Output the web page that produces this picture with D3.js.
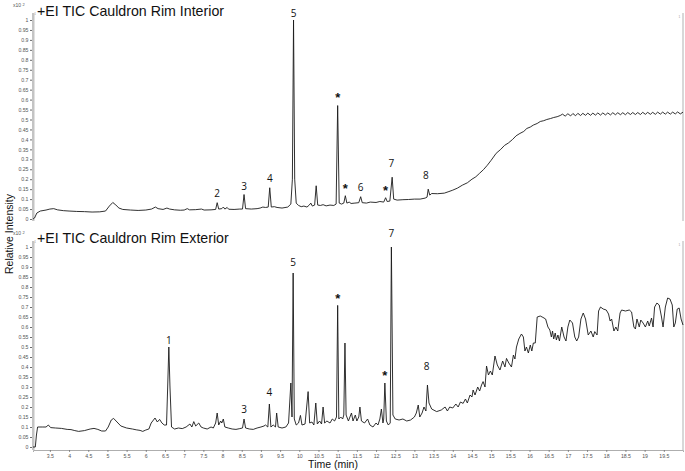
<!DOCTYPE html>
<html><head><meta charset="utf-8">
<script src="https://cdn.jsdelivr.net/npm/d3@7"></script>
<style>body{margin:0;background:#fff}svg{display:block}</style>
</head><body>
<svg id="c" width="685" height="471"></svg>
<script>
// ---------- DATA ----------
const titles = ["+EI TIC Cauldron Rim Interior", "+EI TIC Cauldron Rim Exterior"];
const yTicks = [0,0.05,0.1,0.15,0.2,0.25,0.3,0.35,0.4,0.45,0.5,0.55,0.6,0.65,0.7,0.75,0.8,0.85,0.9,0.95,1];
const xTicks = [3.5,4,4.5,5,5.5,6,6.5,7,7.5,8,8.5,9,9.5,10,10.5,11,11.5,12,12.5,13,13.5,14,14.5,15,15.5,16,16.5,17,17.5,18,18.5,19,19.5];

// [time (min), relative intensity x10^2]
const interiorTrace = [
[3.06,0.0],[3.1,0.005],[3.16,0.03],[3.25,0.04],[3.4,0.045],[3.5,0.05],[3.6,0.052],[3.7,0.046],[3.85,0.042],[4.0,0.04],
[4.2,0.038],[4.4,0.037],[4.6,0.035],[4.8,0.036],[4.95,0.04],[5.05,0.065],[5.14,0.083],[5.22,0.07],[5.3,0.055],[5.4,0.048],
[5.6,0.045],[5.8,0.043],[6.0,0.045],[6.15,0.05],[6.25,0.06],[6.32,0.052],[6.45,0.048],[6.55,0.055],[6.62,0.05],[6.75,0.046],
[6.9,0.044],[7.0,0.045],[7.08,0.052],[7.14,0.046],[7.3,0.047],[7.45,0.05],[7.52,0.045],[7.7,0.046],[7.82,0.048],[7.86,0.082],
[7.9,0.05],[7.98,0.052],[8.02,0.06],[8.06,0.05],[8.12,0.058],[8.16,0.049],[8.3,0.048],[8.45,0.05],[8.52,0.05],[8.56,0.123],
[8.6,0.052],[8.75,0.05],[8.9,0.052],[8.98,0.055],[9.05,0.06],[9.12,0.058],[9.19,0.06],[9.23,0.157],[9.27,0.06],[9.35,0.062],
[9.42,0.058],[9.55,0.055],[9.7,0.06],[9.78,0.075],[9.82,0.2],[9.85,1.0],[9.88,0.2],[9.92,0.08],[9.98,0.068],[10.05,0.062],
[10.12,0.065],[10.2,0.06],[10.26,0.07],[10.3,0.08],[10.34,0.065],[10.4,0.07],[10.44,0.167],[10.48,0.07],[10.55,0.068],[10.62,0.072],
[10.7,0.066],[10.8,0.07],[10.9,0.068],[10.96,0.075],[11.0,0.57],[11.04,0.08],[11.1,0.075],[11.16,0.08],[11.2,0.117],[11.24,0.08],
[11.3,0.085],[11.35,0.078],[11.45,0.08],[11.55,0.082],[11.6,0.112],[11.64,0.082],[11.75,0.08],[11.85,0.085],[12.0,0.083],[12.1,0.088],
[12.2,0.085],[12.25,0.107],[12.29,0.088],[12.36,0.09],[12.42,0.21],[12.46,0.1],[12.55,0.095],[12.7,0.097],[12.85,0.098],[13.0,0.1],
[13.15,0.1],[13.28,0.105],[13.33,0.11],[13.36,0.15],[13.4,0.12],[13.45,0.128],[13.6,0.127],[13.78,0.13],[13.9,0.138],[14.0,0.145],
[14.12,0.155],[14.25,0.17],[14.38,0.182],[14.5,0.2],[14.6,0.212],[14.7,0.23],[14.8,0.248],[14.9,0.27],[15.0,0.295],[15.13,0.33],
[15.25,0.35],[15.35,0.37],[15.45,0.382],[15.56,0.4],[15.65,0.418],[15.75,0.43],[15.85,0.44],[15.93,0.455],[16.02,0.462],[16.1,0.472],
[16.2,0.48],[16.28,0.49],[16.37,0.494],[16.45,0.5],[16.55,0.505],[16.63,0.51],[16.72,0.514],[16.8,0.52],
[16.86,0.527],[16.93,0.517],[17.0,0.529],[17.07,0.518],[17.13,0.53],[17.2,0.519],[17.26,0.531],[17.33,0.52],[17.39,0.531],[17.46,0.521],
[17.52,0.532],[17.59,0.521],[17.65,0.532],[17.72,0.522],[17.78,0.533],[17.85,0.522],[17.91,0.533],[17.98,0.523],[18.04,0.533],[18.11,0.523],
[18.17,0.534],[18.24,0.524],[18.3,0.534],[18.37,0.524],[18.43,0.534],[18.5,0.524],[18.56,0.535],[18.63,0.525],[18.69,0.535],[18.76,0.525],
[18.82,0.535],[18.89,0.525],[18.95,0.536],[19.02,0.526],[19.08,0.536],[19.15,0.526],[19.21,0.536],[19.28,0.526],[19.34,0.537],[19.41,0.527],
[19.47,0.537],[19.54,0.527],[19.6,0.537],[19.67,0.527],[19.73,0.537],[19.8,0.528],[19.86,0.538],[19.93,0.528],[20.0,0.537]
];

const exteriorTrace = [
[3.06,0.0],[3.12,0.0],[3.15,0.06],[3.18,0.1],[3.3,0.1],[3.4,0.1],[3.46,0.11],[3.52,0.097],[3.65,0.095],[3.8,0.093],
[3.95,0.088],[4.05,0.087],[4.15,0.082],[4.25,0.078],[4.4,0.082],[4.55,0.09],[4.65,0.093],[4.75,0.088],[4.85,0.08],[4.95,0.08],
[5.02,0.1],[5.1,0.135],[5.16,0.143],[5.25,0.125],[5.35,0.105],[5.5,0.095],[5.65,0.09],[5.75,0.086],[5.85,0.083],[5.92,0.078],
[6.0,0.085],[6.08,0.09],[6.14,0.12],[6.24,0.145],[6.3,0.125],[6.36,0.138],[6.42,0.12],[6.48,0.11],[6.54,0.11],[6.57,0.3],
[6.6,0.5],[6.63,0.3],[6.67,0.1],[6.75,0.09],[6.85,0.095],[6.95,0.092],[7.05,0.1],[7.15,0.115],[7.2,0.1],[7.25,0.127],
[7.3,0.105],[7.38,0.12],[7.44,0.1],[7.5,0.095],[7.6,0.09],[7.7,0.1],[7.76,0.095],[7.82,0.12],[7.86,0.17],[7.9,0.11],
[7.95,0.13],[7.98,0.12],[8.02,0.14],[8.06,0.1],[8.15,0.095],[8.25,0.09],[8.35,0.088],[8.45,0.092],[8.52,0.095],[8.56,0.14],
[8.6,0.095],[8.7,0.09],[8.8,0.088],[8.9,0.095],[9.0,0.1],[9.08,0.105],[9.12,0.11],[9.18,0.1],[9.22,0.215],[9.26,0.1],
[9.32,0.11],[9.38,0.1],[9.41,0.17],[9.45,0.1],[9.55,0.095],[9.65,0.1],[9.72,0.12],[9.78,0.32],[9.81,0.15],[9.84,0.87],
[9.87,0.14],[9.92,0.11],[9.98,0.12],[10.03,0.158],[10.07,0.11],[10.15,0.115],[10.23,0.277],[10.27,0.12],[10.33,0.125],[10.38,0.11],
[10.43,0.22],[10.47,0.115],[10.53,0.13],[10.58,0.115],[10.62,0.2],[10.66,0.12],[10.72,0.13],[10.8,0.12],[10.86,0.14],[10.92,0.13],
[10.97,0.15],[11.0,0.708],[11.03,0.14],[11.08,0.15],[11.13,0.14],[11.16,0.16],[11.19,0.52],[11.22,0.16],[11.28,0.13],[11.32,0.15],
[11.36,0.17],[11.4,0.13],[11.46,0.16],[11.5,0.13],[11.55,0.15],[11.58,0.2],[11.62,0.13],[11.7,0.12],[11.78,0.14],[11.84,0.11],
[11.92,0.1],[12.0,0.12],[12.05,0.11],[12.1,0.14],[12.14,0.19],[12.18,0.12],[12.2,0.14],[12.23,0.32],[12.27,0.13],[12.32,0.11],
[12.37,0.12],[12.4,1.0],[12.44,0.16],[12.5,0.14],[12.6,0.135],[12.7,0.14],[12.8,0.13],[12.9,0.135],[13.0,0.15],[13.05,0.17],
[13.1,0.21],[13.14,0.15],[13.2,0.17],[13.25,0.2],[13.3,0.18],[13.34,0.31],[13.38,0.22],[13.45,0.19],[13.58,0.177],[13.7,0.185],
[13.8,0.2],[13.86,0.18],[13.92,0.2],[14.0,0.195],[14.08,0.215],[14.14,0.2],[14.2,0.225],[14.27,0.218],[14.33,0.24],[14.38,0.22],
[14.45,0.26],[14.5,0.25],[14.53,0.285],[14.58,0.26],[14.65,0.3],[14.7,0.28],[14.75,0.31],[14.79,0.327],[14.84,0.3],[14.88,0.405],
[14.93,0.36],[14.98,0.38],[15.03,0.36],[15.1,0.455],[15.16,0.41],[15.23,0.385],[15.3,0.43],[15.36,0.4],[15.4,0.443],[15.46,0.42],
[15.53,0.4],[15.58,0.46],[15.62,0.44],[15.66,0.5],[15.72,0.54],[15.79,0.565],[15.84,0.55],[15.88,0.48],[15.92,0.5],[15.97,0.47],
[16.02,0.51],[16.06,0.48],[16.1,0.52],[16.15,0.52],[16.2,0.65],[16.28,0.655],[16.35,0.648],[16.42,0.64],[16.48,0.6],[16.53,0.585],
[16.57,0.55],[16.6,0.58],[16.63,0.54],[16.67,0.57],[16.7,0.535],[16.74,0.56],[16.78,0.53],[16.84,0.6],[16.9,0.55],[16.95,0.53],
[17.0,0.6],[17.05,0.635],[17.12,0.62],[17.18,0.55],[17.23,0.53],[17.28,0.55],[17.34,0.64],[17.4,0.67],[17.46,0.64],[17.53,0.56],
[17.6,0.58],[17.66,0.55],[17.7,0.577],[17.76,0.56],[17.8,0.68],[17.85,0.7],[17.92,0.69],[18.0,0.685],[18.06,0.665],[18.1,0.63],
[18.14,0.64],[18.2,0.58],[18.25,0.6],[18.3,0.58],[18.36,0.67],[18.4,0.685],[18.5,0.68],[18.6,0.685],[18.66,0.675],[18.72,0.6],
[18.76,0.59],[18.8,0.64],[18.86,0.6],[18.9,0.635],[18.96,0.62],[19.02,0.6],[19.08,0.63],[19.12,0.605],[19.18,0.645],[19.22,0.6],
[19.26,0.7],[19.32,0.72],[19.38,0.71],[19.44,0.65],[19.48,0.6],[19.54,0.7],[19.6,0.745],[19.66,0.74],[19.72,0.71],[19.76,0.6],
[19.8,0.62],[19.85,0.69],[19.9,0.695],[19.95,0.64],[20.0,0.61]
];

// peak annotations: [time, label baseline value, text]
const interiorLabels = [
[7.86,0.112,"2"],[8.56,0.146,"3"],[9.23,0.187,"4"],[9.85,1.017,"5"],[11.0,0.588,"*"],
[11.2,0.13,"*"],[11.6,0.142,"6"],[12.25,0.12,"*"],[12.4,0.263,"7"],[13.3,0.2,"8"]
];
const exteriorLabels = [
[6.6,0.513,"1"],[8.56,0.168,"3"],[9.22,0.255,"4"],[9.84,0.905,"5"],[11.0,0.72,"*"],
[12.23,0.335,"*"],[12.4,1.048,"7"],[13.32,0.385,"8"]
];

// ---------- DRAW ----------
const svg = d3.select("#c");
const x = d3.scaleLinear().domain([3.06, 20.0]).range([33, 683]);
const panels = [
  {trace: interiorTrace, labels: interiorLabels, title: titles[0], y: d3.scaleLinear().domain([0,1]).range([219,20]), top: 13, bottom: 221, titleY: 16},
  {trace: exteriorTrace, labels: exteriorLabels, title: titles[1], y: d3.scaleLinear().domain([0,1]).range([447,247]), top: 241, bottom: 450, titleY: 243}
];
const sans = "Liberation Sans, Arial, sans-serif";

panels.forEach((p, i) => {
  const g = svg.append("g");
  g.append("rect").attr("x", 32).attr("y", p.top).attr("width", 2.5).attr("height", p.bottom - p.top).attr("fill", "#c4c4c4");
  g.append("rect").attr("x", 682).attr("y", p.top).attr("width", 2).attr("height", p.bottom - p.top).attr("fill", "#d8d8d8");
  const ax = g.append("g").attr("transform", "translate(32,0)")
    .call(d3.axisLeft(p.y).tickValues(yTicks).tickSize(2).tickPadding(1.5).tickFormat(d3.format("~g")));
  ax.select(".domain").remove();
  ax.selectAll(".tick line").attr("stroke", "#444").attr("stroke-width", 0.8);
  ax.selectAll(".tick text").attr("font-family", sans).attr("font-size", 5.2).attr("fill", "#555");
  const t = g.append("text").attr("x", 13).attr("y", p.top - 6).attr("font-family", sans).attr("font-size", 5).attr("fill", "#555").text("x10");
  t.append("tspan").attr("dx", 1.5).attr("dy", -1.5).attr("font-size", 4).text("2");
  // tiny "1" markers at axis tops
  g.append("text").attr("x", 34.3).attr("y", p.top + 2).attr("font-family", sans).attr("font-size", 3.2).attr("fill", "#999").text("1");
  g.append("text").attr("x", 678.5).attr("y", p.top + 5).attr("font-family", sans).attr("font-size", 3.2).attr("fill", "#999").text("1");
  g.append("text").attr("x", 37).attr("y", p.titleY).attr("font-family", sans).attr("font-size", 14.2).attr("fill", "#111").text(p.title);
  const line = d3.line().x(d => x(d[0])).y(d => p.y(d[1]));
  g.append("path").datum(p.trace).attr("d", line).attr("fill", "none").attr("stroke", "#1a1a1a").attr("stroke-width", 0.9).attr("stroke-linejoin", "round");
  g.selectAll("text.lab").data(p.labels).join("text").attr("class", "lab")
    .attr("x", d => x(d[0])).attr("y", d => p.y(d[1]))
    .attr("text-anchor", "middle")
    .attr("font-family", d => d[2] === "*" ? sans : "Open Sans, Liberation Sans, sans-serif")
    .attr("font-size", d => d[2] === "*" ? 13 : 10)
    .attr("font-weight", d => d[2] === "*" ? "bold" : "normal")
    .attr("fill", "#111")
    .text(d => d[2]);
});

const bx = svg.append("g").attr("transform", "translate(0,450)")
  .call(d3.axisBottom(x).tickValues(xTicks).tickSize(2).tickPadding(2).tickFormat(d3.format("~g")));
bx.select(".domain").attr("stroke", "#999").attr("stroke-width", 0.8);
bx.selectAll(".tick line").attr("stroke", "#666").attr("stroke-width", 0.7);
bx.selectAll(".tick text").attr("font-family", sans).attr("font-size", 5.2).attr("fill", "#555");

svg.append("text").attr("x", 333).attr("y", 468).attr("text-anchor", "middle")
  .attr("font-family", sans).attr("font-size", 10.5).attr("fill", "#111").text("Time (min)");
svg.append("text").attr("transform", "translate(13,234) rotate(-90)").attr("text-anchor", "middle")
  .attr("font-family", sans).attr("font-size", 10.5).attr("fill", "#111").text("Relative Intensity");
</script>
</body></html>
